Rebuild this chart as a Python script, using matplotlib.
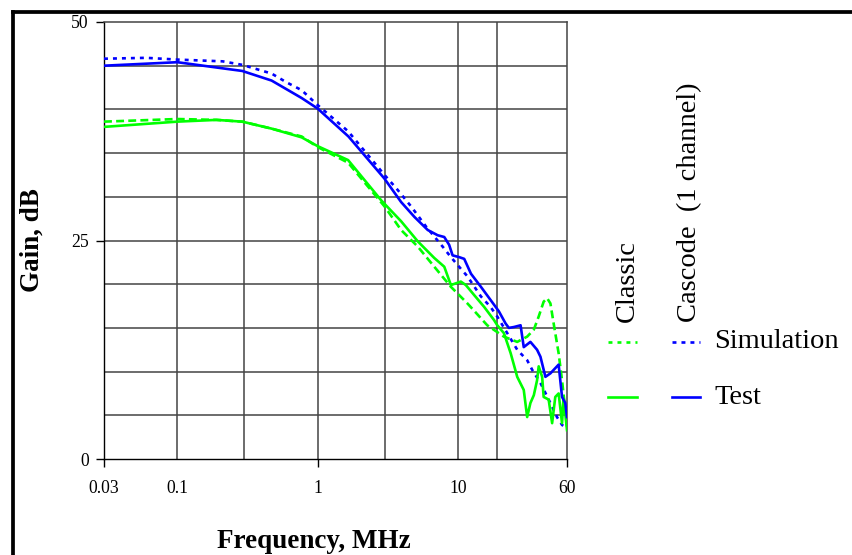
import matplotlib
matplotlib.use("Agg")
import matplotlib.pyplot as plt
from matplotlib.lines import Line2D

plt.rcParams['font.family'] = ['Liberation Serif', 'DejaVu Serif']

# ---- data (frequency MHz, gain dB) ----
casc_test_f = [0.03, 0.1, 0.21, 0.29, 0.47, 0.77, 1.0, 1.66, 2.99, 3.94, 4.9, 6.1, 7.18, 8.0, 8.67,
               9.17, 10.2, 11.1, 12.4, 14.6, 17.1, 19.6, 21.9, 23.1, 25.1, 28.0, 29.5, 32.9, 36.7,
               38.8, 42.1, 45.7, 52.3, 55.3, 58.3, 60]
casc_test_g = [45.0, 45.4, 44.7, 44.4, 43.3, 41.3, 40.1, 36.9, 32.1, 29.4, 27.7, 26.2, 25.6, 25.4, 24.5,
               23.3, 23.1, 22.9, 21.2, 19.7, 18.2, 16.9, 15.5, 15.0, 15.1, 15.3, 12.8, 13.4, 12.5,
               11.7, 9.4, 9.8, 10.8, 7.1, 6.4, 4.8]

casc_sim_f = [0.03, 0.06, 0.1, 0.21, 0.29, 0.47, 0.6, 0.77, 1.0, 1.65, 3.0, 3.63, 4.64, 5.93, 7.79,
              8.92, 10.2, 11.7, 14.6, 17.1, 19.1, 22.5, 26.5, 31.2, 33.9, 38.8, 45.7, 50.9, 55.3, 60]
casc_sim_g = [45.8, 45.9, 45.7, 45.5, 45.1, 44.1, 43.1, 42.2, 40.5, 37.5, 32.5, 31.0, 28.9, 26.6, 24.3,
              23.1, 22.0, 20.9, 18.6, 17.4, 16.3, 14.4, 12.5, 11.3, 10.2, 8.7, 6.4, 4.8, 3.9, 3.5]

clas_test_f = [0.03, 0.1, 0.19, 0.29, 0.47, 0.77, 1.0, 1.65, 2.84, 3.94, 5.18, 6.79, 8.0, 8.92, 9.68,
               10.5, 11.4, 13.0, 15.4, 18.1, 19.1, 21.3, 23.8, 26.5, 29.5, 31.2, 32.9, 34.8, 36.7,
               37.7, 39.9, 40.9, 44.4, 47.0, 49.5, 52.3, 55.3, 56.7, 60]
clas_test_g = [38.0, 38.6, 38.8, 38.6, 37.8, 36.8, 35.8, 34.2, 29.6, 27.2, 24.9, 23.0, 22.0, 19.9, 20.1,
               20.3, 19.9, 18.8, 17.4, 15.9, 15.3, 14.4, 12.1, 9.4, 7.9, 4.8, 6.4, 7.3, 9.0,
               10.6, 9.4, 7.1, 6.8, 4.1, 7.1, 7.5, 4.1, 7.1, 3.3]

clas_sim_f = [0.03, 0.1, 0.19, 0.29, 0.47, 0.77, 1.0, 1.65, 3.0, 3.94, 5.18, 6.79, 8.92, 11.7, 13.0,
              16.2, 21.3, 26.5, 31.2, 34.8, 37.7, 40.9, 43.3, 45.7, 48.2, 52.3, 55.3, 58.3, 60]
clas_sim_g = [38.6, 38.9, 38.8, 38.6, 37.8, 36.9, 35.7, 33.9, 28.9, 26.2, 24.3, 22.0, 19.7, 17.8, 17.0,
              15.3, 14.0, 13.4, 14.0, 14.8, 16.3, 18.0, 18.4, 17.8, 15.5, 12.1, 9.0, 5.6, 3.7]

x_ticks = [0.03, 0.1, 1, 10, 60]
x_tick_labels = ['0.03', '0.1', '1', '10', '60']
x_ticks_marked = [0.03, 1, 60]
y_ticks = [0, 25, 50]
x_grid = [0.1, 0.3, 1, 3, 10, 19]
y_grid = [5, 10, 15, 20, 25, 30, 35, 40, 45]

BLUE = '#0000FF'
GREEN = '#00FF00'

W, H = 853, 555
fig = plt.figure(figsize=(W / 100, H / 100), dpi=100)
ax = fig.add_axes([104 / W, 1 - 459 / H, (567 - 104) / W, (459 - 22) / H])
ax.set_xscale('log')
ax.set_xlim(0.03, 60)
ax.set_ylim(0, 50)

gridc = '#444444'
for xv in x_grid:
    ax.axvline(xv, color=gridc, lw=1.1, zorder=1)
for yv in y_grid:
    ax.axhline(yv, color=gridc, lw=1.1, zorder=1)

for s in ['top', 'right']:
    ax.spines[s].set_color(gridc)
    ax.spines[s].set_linewidth(1.1)
for s in ['left', 'bottom']:
    ax.spines[s].set_color('black')
    ax.spines[s].set_linewidth(1.0)

lw = 1.9
dot = (0, (1.5, 1.9))
dash = (0, (3.0, 1.6))
ax.plot(clas_sim_f, clas_sim_g, color=GREEN, lw=lw, ls=dash, zorder=3)
ax.plot(casc_sim_f, casc_sim_g, color=BLUE, lw=lw, ls=dot, zorder=3)
ax.plot(clas_test_f, clas_test_g, color=GREEN, lw=lw, zorder=4)
ax.plot(casc_test_f, casc_test_g, color=BLUE, lw=lw, zorder=4)

ax.set_xticks(x_ticks)
ax.set_xticklabels(x_tick_labels)
ax.xaxis.set_minor_locator(matplotlib.ticker.NullLocator())
ax.set_yticks(y_ticks)
ax.tick_params(axis='x', direction='out', length=6, width=1.0, pad=9, labelsize=12.7)
ax.tick_params(axis='y', direction='out', length=6, width=1.0, pad=5, labelsize=12.7)
for t in ax.xaxis.get_major_ticks():
    if t.get_loc() not in x_ticks_marked:
        t.tick1line.set_visible(False)

fig.text(314 / W, 1 - 541 / H, 'Frequency, MHz', ha='center', va='center',
         fontsize=19.5, fontweight='bold')
fig.text(32 / W, 1 - 240 / H, 'Gain, dB', ha='center', va='center', rotation=90,
         fontsize=19.5, fontweight='bold')

# legend
fig.text(627 / W, 1 - 322 / H, 'Classic', rotation=90, ha='center', va='bottom', fontsize=20.5)
fig.text(690 / W, 1 - 322 / H, 'Cascode  (1 channel)', rotation=90, ha='center', va='bottom',
         fontsize=20.5)
y1 = 1 - 342 / H
y2 = 1 - 397 / H
fig.add_artist(Line2D([608 / W, 637 / W], [y1, y1], color=GREEN, lw=lw, ls=dot))
fig.add_artist(Line2D([672 / W, 700 / W], [y1, y1], color=BLUE, lw=lw, ls=dot))
fig.add_artist(Line2D([608 / W, 637 / W], [y2, y2], color=GREEN, lw=lw))
fig.add_artist(Line2D([672 / W, 700 / W], [y2, y2], color=BLUE, lw=lw))
fig.text(714 / W, y1, 'Simulation', ha='left', va='center', fontsize=20.5)
fig.text(714 / W, y2, 'Test', ha='left', va='center', fontsize=20.5)

# frame
fig.add_artist(Line2D([13.5 / W, 13.5 / W], [0, 1 - 11.5 / H], color='black', lw=2.7,
                      solid_capstyle='projecting'))
fig.add_artist(Line2D([13.5 / W, 1], [1 - 11.5 / H, 1 - 11.5 / H], color='black', lw=2.7,
                      solid_capstyle='projecting'))

fig.savefig('out.png', dpi=100)
